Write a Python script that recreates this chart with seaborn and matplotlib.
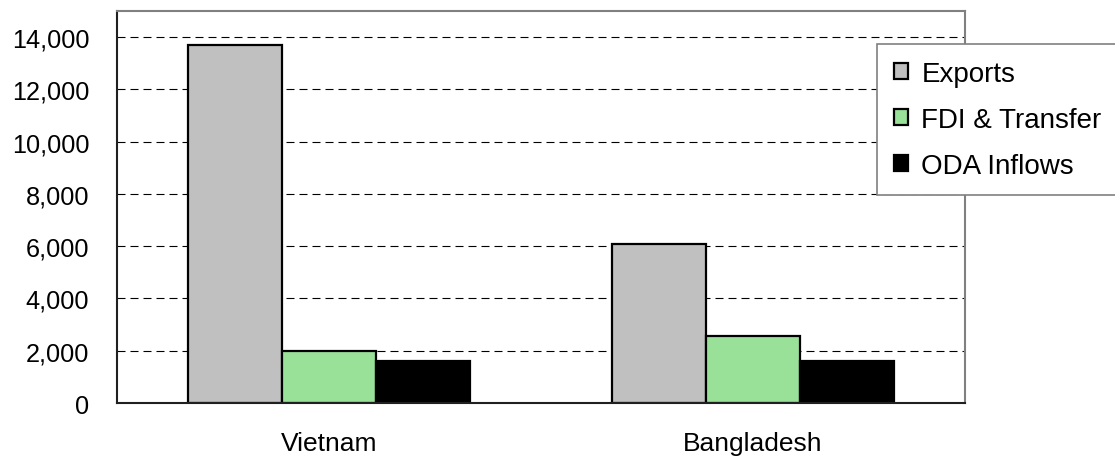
import pandas as pd
import matplotlib.pyplot as plt
import seaborn as sns
import matplotlib.ticker as mticker

# Values
countries = ['Vietnam', 'Bangladesh']
series = ['Exports', 'FDI & Transfer', 'ODA Inflows']
exports = [13700, 6080]
fdi_transfer = [1980, 2550]
oda_inflows = [1620, 1610]
colors = ['#C0C0C0', '#99E099', '#000000']
y_ticks = [0, 2000, 4000, 6000, 8000, 10000, 12000, 14000]

df = pd.DataFrame({
    'Country': countries * 3,
    'Series': [s for s in series for _ in countries],
    'Value': exports + fdi_transfer + oda_inflows,
})

sns.set_style("white")
plt.rcParams['font.family'] = ['Liberation Sans', 'DejaVu Sans']
plt.rcParams['text.color'] = 'black'
plt.rcParams['xtick.color'] = 'black'
plt.rcParams['ytick.color'] = 'black'

fig = plt.figure(figsize=(11.15, 4.6), dpi=100)
ax = fig.add_axes([0.105, 0.1217, 0.7605, 0.8522])

sns.barplot(data=df, x='Country', y='Value', hue='Series', hue_order=series,
            palette=colors, saturation=1, width=0.667, gap=0,
            edgecolor='black', linewidth=1.6, errorbar=None, ax=ax)

ax.set_xlim(-0.5, 1.5)
ax.set_ylim(0, 15000)
ax.set_yticks(y_ticks)
ax.yaxis.set_major_formatter(mticker.FuncFormatter(lambda x, _: f'{int(x):,}'))
ax.set_xlabel('')
ax.set_ylabel('')

# Dashed horizontal gridlines behind the bars
ax.set_axisbelow(True)
ax.yaxis.grid(True, linestyle=(0, (7.2, 4.5)), color='black', linewidth=0.8)
ax.xaxis.grid(False)

ax.tick_params(axis='y', length=0, pad=20, labelsize=18.2, labelcolor='black')
ax.tick_params(axis='x', length=0, pad=20, labelsize=19, labelcolor='black')

for side in ['left', 'bottom']:
    ax.spines[side].set_color('#202020')
    ax.spines[side].set_linewidth(1.5)
for side in ['top', 'right']:
    ax.spines[side].set_color('#808080')
    ax.spines[side].set_linewidth(1.5)

# Legend box sticking out past the right edge of the plot area
ax.legend_.remove()
handles, labels = ax.get_legend_handles_labels()
leg = fig.legend(handles[:3], labels[:3], loc='upper left',
                 bbox_to_anchor=(877 / 1115, 1 - 45 / 460),
                 fontsize=20, frameon=True, fancybox=False, shadow=False,
                 framealpha=1, handlelength=0.52, handleheight=0.52,
                 handletextpad=0.48, labelspacing=0.72, borderpad=0.6,
                 borderaxespad=0)
leg.get_frame().set_edgecolor('#808080')
leg.get_frame().set_linewidth(1.2)
for t in leg.get_texts():
    t.set_color('black')

plt.savefig('out.png', dpi=100)
